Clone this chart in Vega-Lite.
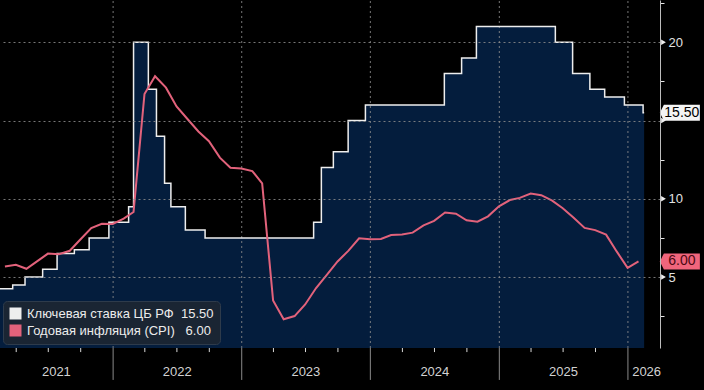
{
  "$schema": "https://vega.github.io/schema/vega-lite/v6.json",
  "width": 660,
  "height": 348,
  "autosize": {"type": "none"},
  "padding": {"left": 0, "top": 0, "right": 44, "bottom": 42},
  "background": "#000000",
  "config": {
    "view": {"stroke": null},
    "font": "Liberation Sans",
    "axis": {"labelOverlap": false, "labelBound": false}
  },
  "datasets": {
    "rate": [
      {"date": "2021-02-14", "v": 4.25},
      {"date": "2021-03-22", "v": 4.5},
      {"date": "2021-04-26", "v": 5.0},
      {"date": "2021-06-15", "v": 5.5},
      {"date": "2021-07-26", "v": 6.5},
      {"date": "2021-09-13", "v": 6.75},
      {"date": "2021-10-25", "v": 7.5},
      {"date": "2021-12-20", "v": 8.5},
      {"date": "2022-02-14", "v": 9.5},
      {"date": "2022-02-28", "v": 20.0},
      {"date": "2022-04-11", "v": 17.0},
      {"date": "2022-05-04", "v": 14.0},
      {"date": "2022-05-27", "v": 11.0},
      {"date": "2022-06-14", "v": 9.5},
      {"date": "2022-07-25", "v": 8.0},
      {"date": "2022-09-19", "v": 7.5},
      {"date": "2023-07-24", "v": 8.5},
      {"date": "2023-08-15", "v": 12.0},
      {"date": "2023-09-18", "v": 13.0},
      {"date": "2023-10-30", "v": 15.0},
      {"date": "2023-12-18", "v": 16.0},
      {"date": "2024-07-29", "v": 18.0},
      {"date": "2024-09-16", "v": 19.0},
      {"date": "2024-10-28", "v": 21.0},
      {"date": "2025-06-09", "v": 20.0},
      {"date": "2025-07-28", "v": 18.0},
      {"date": "2025-09-15", "v": 17.0},
      {"date": "2025-10-27", "v": 16.5},
      {"date": "2025-12-22", "v": 16.0},
      {"date": "2026-02-13", "v": 15.5},
      {"date": "2026-02-16", "v": 15.5}
    ],
    "cpi": [
      {"date": "2021-02-28", "v": 5.67},
      {"date": "2021-03-31", "v": 5.79},
      {"date": "2021-04-30", "v": 5.53},
      {"date": "2021-05-31", "v": 6.02},
      {"date": "2021-06-30", "v": 6.5},
      {"date": "2021-07-31", "v": 6.46},
      {"date": "2021-08-31", "v": 6.68},
      {"date": "2021-09-30", "v": 7.4},
      {"date": "2021-10-31", "v": 8.13},
      {"date": "2021-11-30", "v": 8.4},
      {"date": "2021-12-31", "v": 8.39},
      {"date": "2022-01-31", "v": 8.73},
      {"date": "2022-02-28", "v": 9.16},
      {"date": "2022-03-31", "v": 16.69},
      {"date": "2022-04-30", "v": 17.83},
      {"date": "2022-05-31", "v": 17.1},
      {"date": "2022-06-30", "v": 15.9},
      {"date": "2022-07-31", "v": 15.1},
      {"date": "2022-08-31", "v": 14.3},
      {"date": "2022-09-30", "v": 13.68},
      {"date": "2022-10-31", "v": 12.63},
      {"date": "2022-11-30", "v": 11.98},
      {"date": "2022-12-31", "v": 11.94},
      {"date": "2023-01-31", "v": 11.77},
      {"date": "2023-02-28", "v": 10.99},
      {"date": "2023-03-31", "v": 3.51},
      {"date": "2023-04-30", "v": 2.31},
      {"date": "2023-05-31", "v": 2.51},
      {"date": "2023-06-30", "v": 3.25},
      {"date": "2023-07-31", "v": 4.3},
      {"date": "2023-08-31", "v": 5.15},
      {"date": "2023-09-30", "v": 6.0},
      {"date": "2023-10-31", "v": 6.69},
      {"date": "2023-11-30", "v": 7.48},
      {"date": "2023-12-31", "v": 7.42},
      {"date": "2024-01-31", "v": 7.44},
      {"date": "2024-02-29", "v": 7.69},
      {"date": "2024-03-31", "v": 7.72},
      {"date": "2024-04-30", "v": 7.84},
      {"date": "2024-05-31", "v": 8.3},
      {"date": "2024-06-30", "v": 8.59},
      {"date": "2024-07-31", "v": 9.13},
      {"date": "2024-08-31", "v": 9.05},
      {"date": "2024-09-30", "v": 8.63},
      {"date": "2024-10-31", "v": 8.54},
      {"date": "2024-11-30", "v": 8.88},
      {"date": "2024-12-31", "v": 9.52},
      {"date": "2025-01-31", "v": 9.92},
      {"date": "2025-02-28", "v": 10.06},
      {"date": "2025-03-31", "v": 10.34},
      {"date": "2025-04-30", "v": 10.23},
      {"date": "2025-05-31", "v": 9.88},
      {"date": "2025-06-30", "v": 9.4},
      {"date": "2025-07-31", "v": 8.79},
      {"date": "2025-08-31", "v": 8.14},
      {"date": "2025-09-30", "v": 8.0},
      {"date": "2025-10-31", "v": 7.71},
      {"date": "2025-11-30", "v": 6.64},
      {"date": "2025-12-31", "v": 5.59},
      {"date": "2026-01-31", "v": 6.0}
    ],
    "years": [
      {"date": "2021-07-24", "label": "2021"},
      {"date": "2022-07-02", "label": "2022"},
      {"date": "2023-07-02", "label": "2023"},
      {"date": "2024-07-02", "label": "2024"},
      {"date": "2025-07-02", "label": "2025"},
      {"date": "2026-02-23", "label": "2026"}
    ],
    "yearlines": [
      {"date": "2022-01-01"}, {"date": "2023-01-01"}, {"date": "2024-01-01"}, {"date": "2025-01-01"}, {"date": "2026-01-01"}
    ],
    "quarters": [
      {"date": "2021-04-01"}, {"date": "2021-07-01"}, {"date": "2021-10-01"},
      {"date": "2022-04-01"}, {"date": "2022-07-01"}, {"date": "2022-10-01"},
      {"date": "2023-04-01"}, {"date": "2023-07-01"}, {"date": "2023-10-01"},
      {"date": "2024-04-01"}, {"date": "2024-07-01"}, {"date": "2024-10-01"},
      {"date": "2025-04-01"}, {"date": "2025-07-01"}, {"date": "2025-10-01"}
    ],
    "tags": [
      {"series": "rate", "label": "15.50", "v": 15.5},
      {"series": "cpi", "label": "6.00", "v": 6.0}
    ],
    "yticks": [{"v": 5}, {"v": 10}, {"v": 15}, {"v": 20}]
  },
  "layer": [
    {
      "data": {"name": "rate"},
      "mark": {"type": "area", "interpolate": "step-after", "color": "#041d3d", "clip": true},
      "encoding": {
        "x": {
          "field": "date", "type": "temporal", "title": null,
          "scale": {"domain": [{"year": 2021, "month": 2, "date": 14}, {"year": 2026, "month": 4, "date": 2}]},
          "axis": {
            "title": null,
            "orient": "bottom",
            "domain": false,
            "labels": false,
            "ticks": false,
            "grid": false
          }
        },
        "y": {
          "field": "v", "type": "quantitative", "title": null,
          "scale": {"domain": [0.47, 22.7], "nice": false, "zero": false},
          "axis": {
            "title": null,
            "orient": "right",
            "values": [2.5, 5, 7.5, 10, 12.5, 15, 17.5, 20, 22.5],
            "labelExpr": "datum.value % 5 == 0 && datum.value != 15 ? datum.label : ''",
            "domainColor": "#bdbdbd",
            "tickColor": "#e6e6e6",
            "tickSize": {"condition": {"test": "datum.value % 5 == 0", "value": 0}, "value": 4},
            "labelColor": "#e2e2e2",
            "labelFontSize": 13,
            "labelPadding": 8,
            "grid": true,
            "gridColor": "#8c8c8c",
            "gridDash": [2, 3],
            "gridOpacity": {"condition": {"test": "datum.value % 5 == 0", "value": 0.85}, "value": 0},
            "zindex": 1
          }
        }
      }
    },
    {
      "data": {"name": "yearlines"},
      "mark": {"type": "rule", "color": "#8c8c8c", "strokeDash": [2, 3], "opacity": 0.85},
      "encoding": {
        "x": {"field": "date", "type": "temporal", "title": null},
        "y": {"datum": 0.47, "type": "quantitative", "title": null},
        "y2": {"datum": 22.7}
      }
    },
    {
      "data": {"name": "yearlines"},
      "mark": {"type": "rule", "color": "#8a8a8a"},
      "encoding": {
        "x": {"field": "date", "type": "temporal", "title": null},
        "y": {"datum": -1.57, "type": "quantitative", "title": null},
        "y2": {"datum": 0.47}
      }
    },
    {
      "data": {"name": "quarters"},
      "mark": {"type": "rule", "color": "#d8d8d8"},
      "encoding": {
        "x": {"field": "date", "type": "temporal", "title": null},
        "y": {"datum": 0.21, "type": "quantitative", "title": null},
        "y2": {"datum": 0.47}
      }
    },
    {
      "data": {"name": "rate"},
      "mark": {"type": "line", "interpolate": "step-after", "strokeWidth": 1.5, "clip": true},
      "encoding": {
        "x": {"field": "date", "type": "temporal", "title": null},
        "y": {"field": "v", "type": "quantitative", "title": null},
        "color": {
          "datum": "Ключевая ставка ЦБ РФ", "type": "nominal",
          "scale": {"domain": ["Ключевая ставка ЦБ РФ", "Годовая инфляция (CPI)"], "range": ["#eeeeee", "#e2627b"]},
          "legend": {
            "title": null,
            "orient": "none",
            "legendX": 3,
            "legendY": 301,
            "fillColor": "#1a2533",
            "strokeColor": "#2e3b4b",
            "cornerRadius": 4,
            "padding": 6,
            "symbolType": "square",
            "symbolSize": 144,
            "symbolStrokeWidth": 0,
            "labelColor": "#ececec",
            "labelFontSize": 13,
            "labelLimit": 400,
            "labelOffset": 5,
            "rowPadding": 3,
            "zindex": 2,
            "labelExpr": "datum.label == 'Ключевая ставка ЦБ РФ' ? datum.label + '\u00a0 15.50' : datum.label + '\u00a0\u00a0 6.00'",
            "encode": {"symbols": {"update": {"fill": {"scale": "color", "field": "value"}, "stroke": {"value": "transparent"}}}}
          }
        }
      }
    },
    {
      "data": {"name": "cpi"},
      "mark": {"type": "line", "strokeWidth": 2, "clip": true},
      "encoding": {
        "x": {"field": "date", "type": "temporal", "title": null},
        "y": {"field": "v", "type": "quantitative", "title": null},
        "color": {"datum": "Годовая инфляция (CPI)", "type": "nominal"}
      }
    },
    {
      "data": {"name": "years"},
      "mark": {"type": "text", "align": "center", "baseline": "middle", "fontSize": 13, "fill": "#d2d2d2"},
      "encoding": {
        "x": {"field": "date", "type": "temporal", "title": null},
        "y": {"datum": -1.06, "type": "quantitative", "title": null},
        "text": {"field": "label"}
      }
    },
    {
      "data": {"name": "yticks"},
      "mark": {"type": "point", "shape": "triangle-right", "size": 30, "filled": true, "color": "#eeeeee", "opacity": 1},
      "encoding": {
        "x": {"datum": {"year": 2026, "month": 4, "date": 12}, "type": "temporal", "title": null},
        "y": {"field": "v", "type": "quantitative", "title": null}
      }
    },
    {
      "data": {"name": "tags"},
      "mark": {"type": "point", "shape": "M-1,0L-0.6,-0.8L3,-0.8L3,0.8L-0.6,0.8Z", "size": 400, "filled": true, "opacity": 1, "strokeWidth": 0},
      "encoding": {
        "x": {"datum": {"year": 2026, "month": 4, "date": 30}, "type": "temporal", "title": null},
        "y": {"field": "v", "type": "quantitative", "title": null},
        "fill": {"condition": {"test": "datum.series == 'rate'", "value": "#f4f4f4"}, "value": "#f0657c"}
      }
    },
    {
      "data": {"name": "tags"},
      "transform": [{"filter": "datum.series == 'rate'"}],
      "mark": {"type": "text", "align": "center", "baseline": "middle", "fontSize": 14, "fill": "#000000"},
      "encoding": {
        "x": {"datum": {"year": 2026, "month": 6, "date": 3}, "type": "temporal", "title": null},
        "y": {"field": "v", "type": "quantitative", "title": null},
        "text": {"field": "label"}
      }
    },
    {
      "data": {"name": "tags"},
      "transform": [{"filter": "datum.series == 'cpi'"}],
      "mark": {"type": "text", "align": "center", "baseline": "middle", "fontSize": 14, "fill": "#4a0812"},
      "encoding": {
        "x": {"datum": {"year": 2026, "month": 6, "date": 3}, "type": "temporal", "title": null},
        "y": {"field": "v", "type": "quantitative", "title": null},
        "text": {"field": "label"}
      }
    }
  ]
}
